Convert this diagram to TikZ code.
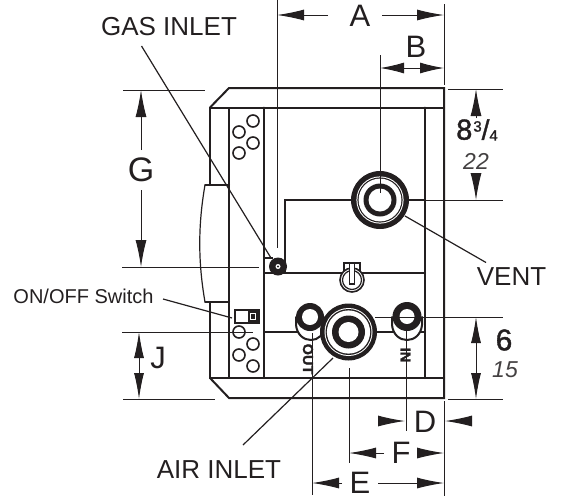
\documentclass[tikz,border=0pt]{standalone}
\usepackage{fontspec}
\setmainfont{Liberation Sans}
\newfontfamily\semib[FakeBold=1.3]{Liberation Sans}
\newfontfamily\heavyf[FakeBold=1.5]{Liberation Sans Bold}
\usetikzlibrary{arrows.meta}
\definecolor{ink}{HTML}{231F20}
\tikzset{
 thick line/.style={line width=2pt,line cap=round,draw=ink},
 thin line/.style={line width=1.2pt,draw=ink},
 dim line/.style={line width=1pt,draw=ink},
 dim arrow/.style={line width=1pt,draw=ink,-{Latex[length=27pt,width=11pt,fill=ink]}},
 lab/.style={inner sep=0pt,text=ink,font=\fontsize{26}{26}\selectfont},
 big/.style={inner sep=0pt,text=ink,font=\fontsize{31}{31}\selectfont},
 metric/.style={inner sep=0pt,text=ink!85,font=\fontsize{23}{23}\selectfont\itshape},
 hole/.style={line width=1.6pt,draw=ink,fill=white},
 tag/.style={inner sep=0pt,text=ink,font=\heavyf\fontsize{14.5}{14.5}\selectfont,rotate=-90},
}
\begin{document}
\begin{tikzpicture}[x=1pt,y=-1pt]
\useasboundingbox (0,0) rectangle (561,498);
% body
\draw[thick line] (210,107.5) -- (229,88) -- (444,88) -- (444,398) -- (229,398) -- (210,378);
\draw[thick line] (210,185) -- (210,107.5) -- (444,107.5);
\draw[thick line] (210,302) -- (210,378) -- (444,378);
\draw[thin line] (229,107.5) -- (229,378);
\draw[thick line] (264,107.5) -- (264,378);
\draw[thick line] (425,107.5) -- (425,378);
\draw[thick line] (205,185) -- (229,185);
\draw[thick line] (205,302) -- (229,302);
\draw[thin line] (205,185) .. controls (198,225) and (198,262) .. (205,302);
% internal lines
\draw[thick line] (425,200) -- (285,200) -- (285,272);
\draw[thick line] (264,273) -- (425,273);
\draw[thick line] (264,332) -- (425,332);
\draw[thin line] (264,258) -- (273,258);
% vent holes
\foreach \p in {(253,121),(239,132),(253,143),(239,153),(239,332),(253,344),(239,355),(253,366)}
  \draw[hole] \p circle (6);
% switch
\draw[line width=1.4pt,draw=ink,fill=white] (235,310) rectangle (259,323);
\draw[line width=1.4pt,draw=ink,fill=white] (249,312) rectangle (257,321);
\fill[ink] (251,314) rectangle (255,319);
% vent
\fill[ink] (380,200) circle (29);
\fill[white] (380,200) circle (23.6);
\fill[ink] (380,200) circle (22.6);
\fill[white] (380,200) circle (21.4);
\fill[ink] (380,200) circle (16.5);
\fill[white] (380,200) circle (11.5);
% gas inlet
\fill[ink] (278,266.5) circle (9);
\fill[white] (278,266.5) circle (2.5);
\fill[ink] (278,266.5) circle (1.2);
% knob
\draw[line width=1.2pt,draw=ink,fill=white] (344,263) rectangle (360,274);
\draw[line width=1.6pt,draw=ink,fill=white] (352,280) circle (12);
\draw[line width=1.2pt,draw=ink,fill=white] (352,280) circle (9.5);
\draw[line width=1.2pt,draw=ink,fill=white] (349.5,263) rectangle (354.5,284);
% out / in bodies
\draw[thick line,fill=white] (296,317) -- (296,325) .. controls (297,335) and (304,340) .. (311,340) .. controls (318,340) and (324,335) .. (325,325) -- (325,317);
\draw[thick line,fill=white] (392,317) -- (392,325) .. controls (393,335) and (400,340) .. (407,340) .. controls (414,340) and (421,335) .. (422,325) -- (422,317);
\fill[ink] (310,317) circle (14);
\fill[white] (310,317) circle (8);
\fill[ink] (407,316.5) circle (14.5);
\fill[white] (407,316.5) circle (7.5);
% air inlet
\fill[ink] (348.5,332) circle (28.5);
\fill[white] (348.5,332) circle (24);
\fill[ink] (348.5,332) circle (23);
\fill[white] (348.5,332) circle (21.6);
\fill[ink] (348.5,332) circle (16.5);
\fill[white] (348.5,332) circle (10);
\node[tag] (outtag) at (308,359) {OUT};
\node[tag] (intag) at (405.5,355) {IN};
% extension lines
\draw[dim line] (277,0) -- (277,248);
\draw[dim line] (444,4) -- (444,85);
\draw[dim line] (380,55) -- (380,193);
\draw[dim line] (123,90) -- (205,90);
\draw[dim line] (122,267) -- (259,267);
\draw[dim line] (122,332) -- (253,332);
\draw[dim line] (123,399) -- (215,399);
\draw[dim line] (448,89) -- (503,89);
\draw[dim line] (425,200) -- (503,200);
\draw[dim line] (375,317) -- (503,317);
\draw[dim line] (448,399) -- (503,399);
\draw[dim line] (312,333) -- (312,495);
\draw[dim line] (349,368) -- (349,463);
\draw[dim line] (406,330) -- (406,431);
\draw[dim line] (444,401) -- (444,496);
% dimensions
\node[big] (dimA) at (360,16) {A};
\draw[dim arrow] (328,15) -- (277,15);
\draw[dim arrow] (382,15) -- (444,15);
\node[big] (dimB) at (416,47) {B};
\draw[dim line,{Latex[length=24pt,width=11pt,fill=ink]}-{Latex[length=24pt,width=11pt,fill=ink]}] (380,68) -- (444,68);
\node[inner sep=0pt,text=ink,font=\fontsize{34}{34}\selectfont] (dimG) at (141,170) {G};
\draw[dim arrow] (141,150) -- (141,90);
\draw[dim arrow] (141,190) -- (141,267);
\node[big] (dimJ) at (158,358) {J};
\draw[dim line,{Latex[length=26pt,width=10pt,fill=ink]}-{Latex[length=26pt,width=10pt,fill=ink]}] (139,332) -- (139,399);
\node[inner sep=0pt,text=ink,font=\semib\fontsize{29}{29}\selectfont] (frac) at (477,130) {8\kern1pt\raisebox{8pt}{\fontsize{15}{15}\selectfont 3}{\fontsize{28}{28}\selectfont/}\raisebox{-1pt}{\fontsize{15}{15}\selectfont 4}};
\node[metric] (m22) at (476,161) {22};
\draw[dim arrow] (476,118) -- (476,89);
\draw[dim arrow] (476,174) -- (476,200);
\node[inner sep=0pt,text=ink,font=\semib\fontsize{30}{30}\selectfont] (six) at (504,340) {6};
\node[metric] (m15) at (505,370) {15};
\draw[dim line,{Latex[length=26pt,width=10pt,fill=ink]}-{Latex[length=26pt,width=10pt,fill=ink]}] (476,317) -- (476,399);
\node[big] (dimD) at (425,422) {D};
\draw[dim arrow] (384,421) -- (405,421);
\draw[dim arrow] (466,421) -- (445,421);
\node[big] (dimF) at (401,453) {F};
\draw[dim arrow] (384,453) -- (349,453);
\draw[dim arrow] (417,453) -- (444,453);
\node[big] (dimE) at (360,483) {E};
\draw[dim arrow] (342,483) -- (312,483);
\draw[dim arrow] (378,483) -- (444,483);
% labels and leaders
\node[lab] (gas) at (169,27) {GAS INLET};
\draw[thin line] (141.5,46) -- (271,258);
\node[lab] (vent) at (511.5,277) {VENT};
\draw[thin line] (405,216) -- (486,262.5);
\node[lab] (air) at (219,470) {AIR INLET};
\draw[thin line] (333,358) -- (243,445);
\node[inner sep=0pt,text=ink,font=\fontsize{20}{20}\selectfont] (sw) at (83.5,296) {ON/OFF Switch};
\draw[thin line] (163,299) -- (232,318);
\end{tikzpicture}
\end{document}
